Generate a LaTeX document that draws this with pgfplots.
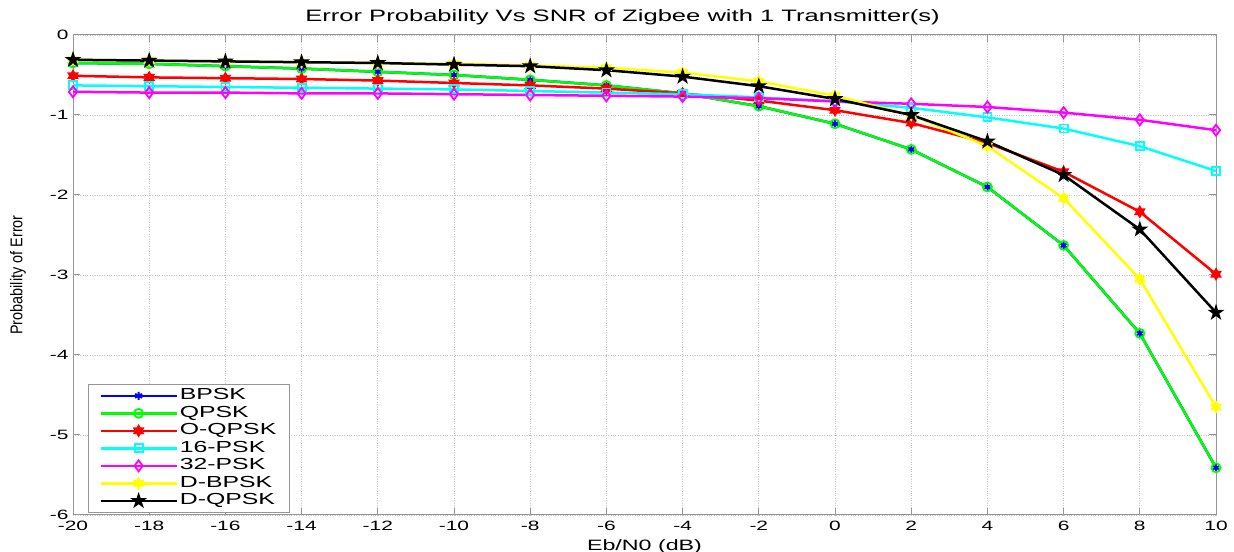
\documentclass[border=0pt]{standalone}
\usepackage{fontspec}
\setmainfont[FakeStretch=1.55]{Liberation Sans}
\newfontfamily\ylfont[FakeStretch=0.85]{Liberation Sans}
\usepackage{pgfplots}
\pgfplotsset{compat=1.18}
\usetikzlibrary{calc,plotmarks}

\pgfdeclareplotmark{pentagram}{%
  \pgfpathmoveto{\pgfpointpolar{90}{\pgfplotmarksize}}%
  \pgfpathlineto{\pgfpointpolar{126}{0.382\pgfplotmarksize}}%
  \pgfpathlineto{\pgfpointpolar{162}{\pgfplotmarksize}}%
  \pgfpathlineto{\pgfpointpolar{198}{0.382\pgfplotmarksize}}%
  \pgfpathlineto{\pgfpointpolar{234}{\pgfplotmarksize}}%
  \pgfpathlineto{\pgfpointpolar{270}{0.382\pgfplotmarksize}}%
  \pgfpathlineto{\pgfpointpolar{306}{\pgfplotmarksize}}%
  \pgfpathlineto{\pgfpointpolar{342}{0.382\pgfplotmarksize}}%
  \pgfpathlineto{\pgfpointpolar{18}{\pgfplotmarksize}}%
  \pgfpathlineto{\pgfpointpolar{54}{0.382\pgfplotmarksize}}%
  \pgfpathclose\pgfusepathqfillstroke}
\pgfdeclareplotmark{hexagram}{%
  \pgfpathmoveto{\pgfpointpolar{90}{\pgfplotmarksize}}%
  \pgfpathlineto{\pgfpointpolar{120}{0.577\pgfplotmarksize}}%
  \pgfpathlineto{\pgfpointpolar{150}{\pgfplotmarksize}}%
  \pgfpathlineto{\pgfpointpolar{180}{0.577\pgfplotmarksize}}%
  \pgfpathlineto{\pgfpointpolar{210}{\pgfplotmarksize}}%
  \pgfpathlineto{\pgfpointpolar{240}{0.577\pgfplotmarksize}}%
  \pgfpathlineto{\pgfpointpolar{270}{\pgfplotmarksize}}%
  \pgfpathlineto{\pgfpointpolar{300}{0.577\pgfplotmarksize}}%
  \pgfpathlineto{\pgfpointpolar{330}{\pgfplotmarksize}}%
  \pgfpathlineto{\pgfpointpolar{0}{0.577\pgfplotmarksize}}%
  \pgfpathlineto{\pgfpointpolar{30}{\pgfplotmarksize}}%
  \pgfpathlineto{\pgfpointpolar{60}{0.577\pgfplotmarksize}}%
  \pgfpathclose\pgfusepathqfillstroke}

\definecolor{mblue}{RGB}{0,0,255}
\definecolor{mgreen}{RGB}{0,255,0}
\definecolor{mred}{RGB}{255,0,0}
\definecolor{mcyan}{RGB}{0,255,255}
\definecolor{mmag}{RGB}{255,0,255}
\definecolor{myel}{RGB}{255,255,0}
\definecolor{frame}{RGB}{150,150,150}

\pgfplotstableread{
x bpsk qpsk oqpsk psk16 psk32 dbpsk dqpsk
-20 -0.35 -0.35 -0.51 -0.63 -0.71 -0.31 -0.31
-18 -0.36 -0.36 -0.53 -0.64 -0.72 -0.32 -0.32
-16 -0.39 -0.39 -0.54 -0.65 -0.72 -0.33 -0.33
-14 -0.42 -0.42 -0.55 -0.66 -0.73 -0.34 -0.34
-12 -0.46 -0.46 -0.57 -0.67 -0.73 -0.35 -0.35
-10 -0.50 -0.50 -0.60 -0.68 -0.74 -0.36 -0.37
-8  -0.56 -0.56 -0.63 -0.70 -0.75 -0.38 -0.39
-6  -0.63 -0.63 -0.67 -0.72 -0.76 -0.41 -0.44
-4  -0.73 -0.73 -0.73 -0.74 -0.77 -0.47 -0.52
-2  -0.89 -0.89 -0.82 -0.78 -0.79 -0.58 -0.64
0   -1.11 -1.11 -0.94 -0.83 -0.83 -0.76 -0.80
2   -1.43 -1.43 -1.10 -0.91 -0.86 -1.00 -1.00
4   -1.90 -1.90 -1.35 -1.03 -0.90 -1.39 -1.33
6   -2.63 -2.63 -1.71 -1.17 -0.97 -2.04 -1.75
8   -3.73 -3.73 -2.21 -1.39 -1.06 -3.05 -2.43
10  -5.41 -5.41 -2.99 -1.70 -1.19 -4.65 -3.47
}\datatable

\begin{document}
\begin{tikzpicture}
\begin{axis}[
  scale only axis,
  width=1143pt, height=480pt,
  xmin=-20, xmax=10, ymin=-6, ymax=0,
  xtick={-20,-18,...,10}, ytick={-6,-5,...,0},
  /pgf/number format/assume math mode=true,
  tick label style={font=\fontsize{13.5}{15}\selectfont},
  xticklabel style={yshift=-3pt},
  yticklabel style={xshift=-1pt},
  axis line style={frame, line width=1pt},
  every tick/.style={frame, line width=1pt},
  major tick length=7pt,
  tick align=inside,
  xtick pos=both, ytick pos=both,
  grid=major,
  major grid style={dotted, gray!45, line width=0.8pt},
  title={Error Probability Vs SNR of Zigbee with 1 Transmitter(s)},
  title style={font=\fontsize{16.5}{18}\selectfont, at={(0.5,1)}, anchor=south, yshift=1pt, xshift=-22pt},
  xlabel={Eb/N0 (dB)},
  xlabel style={font=\fontsize{15}{17}\selectfont, at={(0.5,0)}, anchor=north, yshift=-21pt},
  ylabel={\ylfont Probability of Error},
  ylabel style={font=\fontsize{17}{19}\selectfont, yshift=17pt},
  every axis plot/.append style={line width=2.5pt, mark options={solid, line width=1.8pt}},
  legend style={at={(0.013,0.004)}, anchor=south west, draw=frame, line width=1pt,
    font=\fontsize{16}{18}\selectfont,
    nodes={text height=10.5pt, text depth=3pt, inner sep=2pt, anchor=west},
    inner xsep=11pt, inner ysep=3pt},
  legend cell align=left,
  legend image code/.code={\draw[mark repeat=2,mark phase=2] plot coordinates {(0pt,0pt) (38pt,0pt) (76pt,0pt)};},
]
\addplot[color=mblue, mark=asterisk, mark size=4pt] table[x=x,y=bpsk] {\datatable};
\addlegendentry{BPSK}
\addplot[color=mgreen, mark=o, mark size=4.5pt] table[x=x,y=qpsk] {\datatable};
\addlegendentry{QPSK}
\addplot[color=mred, mark=hexagram, mark size=5pt] table[x=x,y=oqpsk] {\datatable};
\addlegendentry{O-QPSK}
\addplot[color=mcyan, mark=square, mark size=4pt] table[x=x,y=psk16] {\datatable};
\addlegendentry{16-PSK}
\addplot[color=mmag, mark=diamond, mark size=5.5pt] table[x=x,y=psk32] {\datatable};
\addlegendentry{32-PSK}
\addplot[color=myel, mark=hexagram, mark size=5pt] table[x=x,y=dbpsk] {\datatable};
\addlegendentry{D-BPSK}
\addplot[color=black, mark=pentagram, mark size=6pt] table[x=x,y=dqpsk] {\datatable};
\addlegendentry{D-QPSK}
\end{axis}
\pgfresetboundingbox
\path[use as bounding box] ($(current axis.south west)+(-73pt,-37pt)$) rectangle ($(current axis.north east)+(18pt,35pt)$);
\end{tikzpicture}
\end{document}
